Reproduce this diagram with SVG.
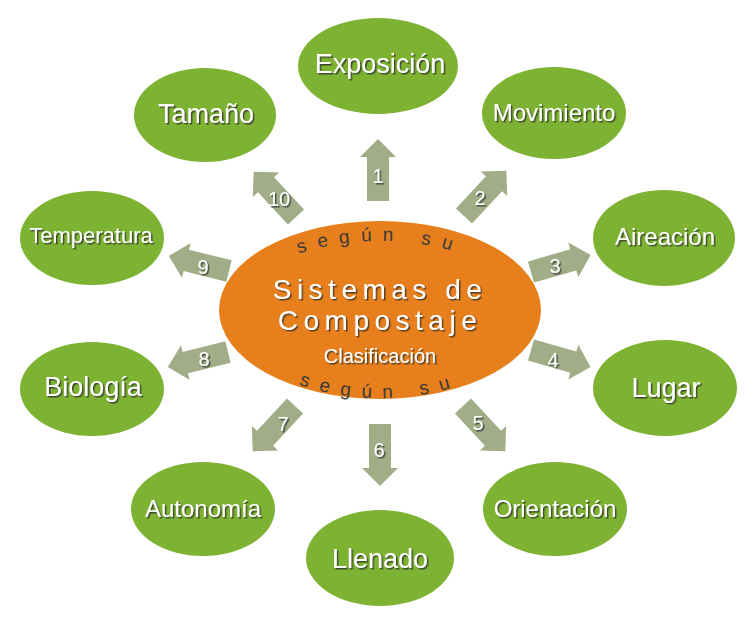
<svg xmlns="http://www.w3.org/2000/svg" width="755" height="629" viewBox="0 0 755 629">
<defs>
  <filter id="sh" x="-20%" y="-30%" width="140%" height="160%">
    <feDropShadow dx="1.5" dy="1.5" stdDeviation="0.7" flood-color="#2a2a2a" flood-opacity="0.75"/>
  </filter>
  <path id="arr" d="M0,-11 H44 V-18 L62,0 L44,18 V11 H0 Z"/>
  <path id="topArc" d="M229,322 A151,81 0 0 1 531,322"/>
  <path id="botArc" d="M228,310 A152,88 0 0 0 532,310"/>
</defs>
<style>
  .node ellipse { fill: #7db232; }
  .node text { fill: #ffffff; font-family: "Liberation Sans", Arial, sans-serif; text-anchor: middle; filter: url(#sh); }
  .big { font-size: 27px; }
  .mid { font-size: 24px; }
  .sm { font-size: 22px; }
  .arrow use { fill: #a0ad87; }
  .num { fill: #ffffff; font-family: "Liberation Sans", Arial, sans-serif; font-size: 20px; text-anchor: middle; filter: url(#sh); }
  .title { fill: #ffffff; font-family: "Liberation Sans", Arial, sans-serif; font-size: 28px; letter-spacing: 5.5px; text-anchor: middle; filter: url(#sh); }
  .sub { fill: #ffffff; font-family: "Liberation Sans", Arial, sans-serif; font-size: 20px; text-anchor: middle; filter: url(#sh); }
  .arc { fill: #3a3a3a; font-family: "Liberation Sans", Arial, sans-serif; font-size: 19px; letter-spacing: 11px; }
</style>
<rect width="755" height="629" fill="#ffffff"/>

<g id="connectors" class="arrow">
  <g id="a1"><use href="#arr" transform="translate(378,201) rotate(-90)"/><text class="num" x="378" y="183">1</text></g>
  <g id="a2"><use href="#arr" transform="translate(464,216) rotate(-47)"/><text class="num" x="480" y="205">2</text></g>
  <g id="a3"><use href="#arr" transform="translate(531,272) rotate(-16)"/><text class="num" x="555" y="273">3</text></g>
  <g id="a4"><use href="#arr" transform="translate(531,350) rotate(16)"/><text class="num" x="553" y="367">4</text></g>
  <g id="a5"><use href="#arr" transform="translate(463,406) rotate(47)"/><text class="num" x="478" y="430">5</text></g>
  <g id="a6"><use href="#arr" transform="translate(380,424) rotate(90)"/><text class="num" x="379" y="457">6</text></g>
  <g id="a7"><use href="#arr" transform="translate(295,406) rotate(133)"/><text class="num" x="283" y="431">7</text></g>
  <g id="a8"><use href="#arr" transform="translate(228,352) rotate(166)"/><text class="num" x="204" y="366">8</text></g>
  <g id="a9"><use href="#arr" transform="translate(229,271) rotate(-166)"/><text class="num" x="203" y="274">9</text></g>
  <g id="a10"><use href="#arr" transform="translate(296,217) rotate(-133)"/><text class="num" x="279" y="206">10</text></g>
</g>

<g id="center">
  <ellipse cx="380" cy="310" rx="161" ry="89" fill="#e7801c"/>
  <text class="title" x="380" y="299">Sistemas de</text>
  <text class="title" x="380" y="330">Compostaje</text>
  <text class="sub" x="380" y="363">Clasificación</text>
  <text class="arc"><textPath href="#topArc" startOffset="50%" text-anchor="middle">según su</textPath></text>
  <text class="arc"><textPath href="#botArc" startOffset="50%" text-anchor="middle">según su</textPath></text>
</g>

<g id="n-exposicion" class="node"><ellipse cx="378" cy="66" rx="80" ry="48"/><text class="big" x="380" y="73">Exposición</text></g>
<g id="n-movimiento" class="node"><ellipse cx="554" cy="113" rx="72" ry="46"/><text class="mid" x="554" y="121">Movimiento</text></g>
<g id="n-aireacion" class="node"><ellipse cx="664" cy="238" rx="71" ry="48"/><text class="mid" x="665" y="245">Aireación</text></g>
<g id="n-lugar" class="node"><ellipse cx="665" cy="388" rx="72" ry="48"/><text class="big" x="666" y="397">Lugar</text></g>
<g id="n-orientacion" class="node"><ellipse cx="555" cy="509" rx="72" ry="47"/><text class="mid" x="555" y="517">Orientación</text></g>
<g id="n-llenado" class="node"><ellipse cx="380" cy="558" rx="74" ry="48"/><text class="big" x="380" y="568">Llenado</text></g>
<g id="n-autonomia" class="node"><ellipse cx="203" cy="509" rx="72" ry="47"/><text class="mid" x="203" y="517">Autonomía</text></g>
<g id="n-biologia" class="node"><ellipse cx="92" cy="389" rx="72" ry="47"/><text class="big" x="93" y="396">Biología</text></g>
<g id="n-temperatura" class="node"><ellipse cx="92" cy="238" rx="72" ry="47"/><text class="sm" x="91" y="243">Temperatura</text></g>
<g id="n-tamano" class="node"><ellipse cx="205" cy="115" rx="71" ry="47"/><text class="big" x="206" y="123">Tamaño</text></g>
</svg>
